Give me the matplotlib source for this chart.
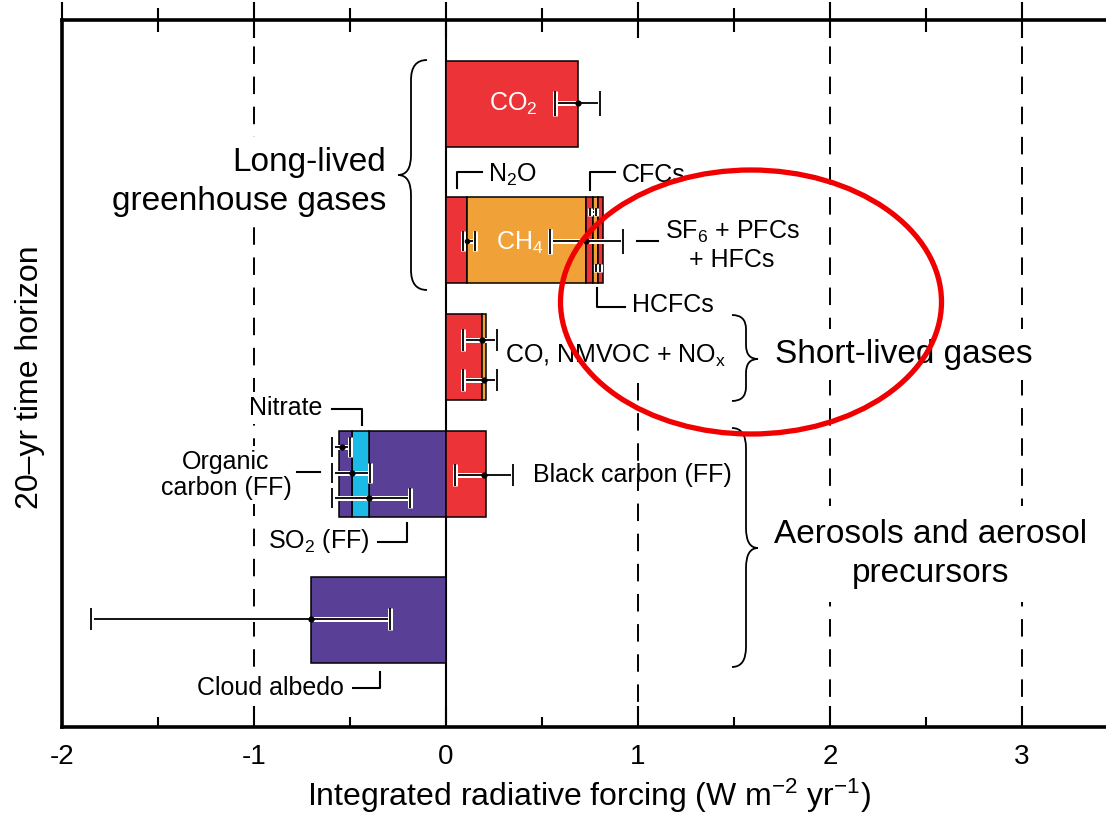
import matplotlib
matplotlib.use('Agg')
import matplotlib.pyplot as plt
import matplotlib.patheffects as pe
from matplotlib.patches import Ellipse, PathPatch
from matplotlib.path import Path
from matplotlib.transforms import Affine2D
import numpy as np

plt.rcParams['font.family'] = ['Liberation Sans', 'DejaVu Sans']
plt.rcParams['axes.unicode_minus'] = False
plt.rcParams['mathtext.fontset'] = 'custom'
plt.rcParams['mathtext.rm'] = 'Liberation Sans'
plt.rcParams['mathtext.it'] = 'Liberation Sans'

# ---------------- data (W m-2 yr-1, 20-yr horizon) ----------------
rows = ['CO2', 'N2O, CH4, halocarbons', 'CO, NMVOC + NOx', 'Aerosols (FF)', 'Cloud albedo']

co2 = [0.69]
# long-lived non-CO2 stack
n2o = [0.11]
ch4 = [0.62]
cfcs = [0.035]
hcfcs = [0.025]
sf6_pfcs_hfcs = [0.028]
# short-lived gases
short_o3 = [0.19]
short_other = [0.02]
# aerosols (fossil fuel)
so2 = [-0.40]
nitrate = [-0.09]
organic_carbon = [-0.067]
black_carbon = [0.21]
# cloud albedo
cloud_albedo = [-0.705]

# error bars: centre, low, high
err_names = ['CO2', 'N2O', 'CH4', 'CFCs', 'HCFCs', 'CO/NMVOC', 'NOx',
             'Organic carbon', 'Nitrate', 'SO2', 'Black carbon', 'Cloud albedo']
err_center = [0.69, 0.11, 0.73, 0.765, 0.79, 0.19, 0.20, -0.54, -0.49, -0.40, 0.20, -0.705]
err_low = [0.57, 0.09, 0.54, 0.75, 0.78, 0.09, 0.09, -0.595, -0.595, -0.595, 0.045, -1.85]
err_high = [0.80, 0.15, 0.92, 0.78, 0.80, 0.265, 0.265, -0.50, -0.395, -0.19, 0.35, -0.29]

xtick_values = [-2, -1, 0, 1, 2, 3]

# ---------------- layout ----------------
W, H = 1106, 816
fig = plt.figure(figsize=(W / 100, H / 100), dpi=100)
ax = fig.add_axes([62 / W, 89 / H, 1044 / W, 707 / H])
ax.set_xlim(-2, (W - 446) / 192)
ax.set_ylim(7.27, 0.20)

row_y = [1.035, 2.395, 3.565, 4.74, 6.195]
err_y = [1.03, 2.41, 2.41, 2.12, 2.68, 3.40, 3.80, 4.47, 4.73, 4.98, 4.75, 6.19]
err_cap = [9, 7, 9, 3, 3, 8, 8, 7, 7, 7, 8, 8]
err_ms = [3.5, 3, 3.5, 0, 0, 3.5, 3.5, 3.5, 3.5, 3.5, 3.5, 3.5]
bar_h = 0.86

RED = '#EC3338'
ORANGE = '#F0A137'
PURPLE = '#5A3F97'
CYAN = '#1CBAE6'
ekw = dict(edgecolor='black', linewidth=1.1, zorder=3)

# CO2
ax.barh(row_y[0], co2[0], height=bar_h, color=RED, **ekw)
# long-lived stack
left = 0
for val, col in [(n2o[0], RED), (ch4[0], ORANGE), (cfcs[0], RED),
                 (hcfcs[0], ORANGE), (sf6_pfcs_hfcs[0], RED)]:
    ax.barh(row_y[1], val, left=left, height=bar_h, color=col, **ekw)
    left += val
# short-lived
ax.barh(row_y[2], short_o3[0], height=bar_h, color=RED, **ekw)
ax.barh(row_y[2], short_other[0], left=short_o3[0], height=bar_h, color=ORANGE, **ekw)
# aerosols
left = 0
for val, col in [(so2[0], PURPLE), (nitrate[0], CYAN), (organic_carbon[0], PURPLE)]:
    ax.barh(row_y[3], val, left=left, height=bar_h, color=col, **ekw)
    left += val
ax.barh(row_y[3], black_carbon[0], height=bar_h, color=RED, **ekw)
# cloud albedo
ax.barh(row_y[4], cloud_albedo[0], height=bar_h, color=PURPLE, **ekw)

halo = [pe.Stroke(linewidth=3.6, foreground='white'), pe.Normal()]
for yc, c, lo, hi, cs, ms in zip(err_y, err_center, err_low, err_high, err_cap, err_ms):
    eb = ax.errorbar(c, yc, xerr=[[c - lo], [hi - c]], fmt='o', ms=ms,
                     color='black', ecolor='black', elinewidth=1.3,
                     capsize=cs, capthick=1.3, zorder=5)
    for ln in eb.lines[1]:
        ln.set_path_effects(halo)
    for lc in eb.lines[2]:
        lc.set_path_effects(halo)

# reference lines
ax.axvline(0, color='black', lw=1.5, zorder=2)
for xv in [-1, 2, 3]:
    ax.axvline(xv, color='black', lw=1.4, dashes=(9, 6.5), zorder=1)
ax.vlines(1, 3.83, 7.27, color='black', lw=1.4, linestyles=(0, (9, 6.5)), zorder=1)

# axes styling
for s in ['right', 'top']:
    ax.spines[s].set_visible(False)
ax.spines['left'].set_linewidth(2.6)
ax.spines['bottom'].set_linewidth(2.6)
ax.set_yticks([])
ax.set_xticks(xtick_values)
ax.set_xticklabels([str(v) for v in xtick_values])
ax.set_xticks(np.arange(-1.5, 3.5, 1.0), minor=True)
ax.tick_params(axis='x', which='major', direction='in', length=15, width=1.5,
               labelsize=20, pad=12)
ax.tick_params(axis='x', which='minor', direction='in', length=7.5, width=1.5)

sec = ax.secondary_xaxis('top')
sec.set_xticks(xtick_values)
sec.set_xticklabels([])
sec.set_xticks(np.arange(-1.5, 3.5, 1.0), minor=True)
sec.tick_params(which='major', direction='inout', length=26, width=1.5)
sec.tick_params(which='minor', direction='inout', length=17, width=1.5)
sec.spines['top'].set_linewidth(2.6)

# ---------------- annotations (figure pixel layout) ----------------
T = Affine2D().scale(1, -1).translate(0, H)
wbox = dict(boxstyle='square,pad=0.15', fc='white', ec='none')


def txt(x, y, s, size=18, ha='left', va='center', zorder=2, **kw):
    ax.text(x, y, s, transform=T, fontsize=size, ha=ha, va=va, zorder=zorder,
            clip_on=False, **kw)


def leader(pts):
    xs, ys = zip(*pts)
    ax.plot(xs, ys, transform=T, color='black', lw=1.5, zorder=2, clip_on=False)


def brace(x_end, x_spine, x_tip, y0, y1, ym, r=16):
    verts = [(x_end, y0), (x_spine, y0), (x_spine, y0 + r),
             (x_spine, ym - r), (x_spine, ym), (x_tip, ym),
             (x_spine, ym), (x_spine, ym + r),
             (x_spine, y1 - r), (x_spine, y1), (x_end, y1)]
    codes = [Path.MOVETO, Path.CURVE3, Path.CURVE3,
             Path.LINETO, Path.CURVE3, Path.CURVE3,
             Path.CURVE3, Path.CURVE3,
             Path.LINETO, Path.CURVE3, Path.CURVE3]
    ax.add_patch(PathPatch(Path(verts, codes), transform=T, fc='none',
                           ec='black', lw=1.3, zorder=2, clip_on=False))


txt(386, 182, 'Long-lived\ngreenhouse gases', size=24, ha='right',
    multialignment='right', linespacing=1.3,
    bbox=dict(boxstyle='square,pad=0.3', fc='white', ec='none'))
brace(427, 411, 398, 60, 290, 175, r=20)

txt(513, 104, 'CO$_2$', ha='center', color='white', zorder=6)
txt(520, 243, 'CH$_4$', ha='center', color='white', zorder=6)

txt(488, 175, 'N$_2$O')
leader([(457, 188), (457, 172), (482, 172)])
txt(622, 175, 'CFCs')
leader([(590, 190), (590, 172), (615, 172)])
txt(732, 245, 'SF$_6$ + PFCs\n+ HFCs', ha='center', linespacing=1.15)
leader([(637, 241), (658, 241)])
txt(632, 305, 'HCFCs')
leader([(597, 288), (597, 307), (625, 307)])

txt(505, 356, 'CO, NMVOC + NO$_\\mathrm{x}$')
brace(732, 746, 758, 315, 401, 359, r=14)
txt(775, 354, 'Short-lived gases', size=24,
    bbox=dict(boxstyle='square,pad=0.3', fc='white', ec='none'))

brace(732, 746, 758, 428, 667, 548, r=20)
txt(931, 554, 'Aerosols and aerosol\nprecursors', size=24, ha='center',
    linespacing=1.3, bbox=dict(boxstyle='square,pad=0.4', fc='white', ec='none'))

txt(322, 408, 'Nitrate', ha='right', bbox=wbox)
leader([(332, 409), (362, 409), (362, 425)])
txt(226, 475, 'Organic\ncarbon (FF)', ha='center', linespacing=1.15, bbox=wbox)
leader([(297, 472), (320, 472)])
txt(268, 541, 'SO$_2$ (FF)', bbox=wbox)
leader([(378, 542), (407, 542), (407, 523)])
txt(533, 475, 'Black carbon (FF)')
txt(197, 688, 'Cloud albedo', bbox=wbox)
leader([(353, 688), (380, 688), (380, 672)])

# red ellipse highlight
ax.add_patch(Ellipse((751, 302), 381, 264, transform=T, fc='none',
                     ec='#F00000', lw=3.8, zorder=10, clip_on=False))

# axis titles
fig.text(589 / W, 1 - 796 / H, 'Integrated radiative forcing (W m$^{-2}$ yr$^{-1}$)',
         fontsize=23, ha='center', va='center')
fig.text(30 / W, 1 - 377 / H, '20\u2013yr time horizon', fontsize=23,
         rotation=90, ha='center', va='center')

fig.savefig('out.png', dpi=100)
